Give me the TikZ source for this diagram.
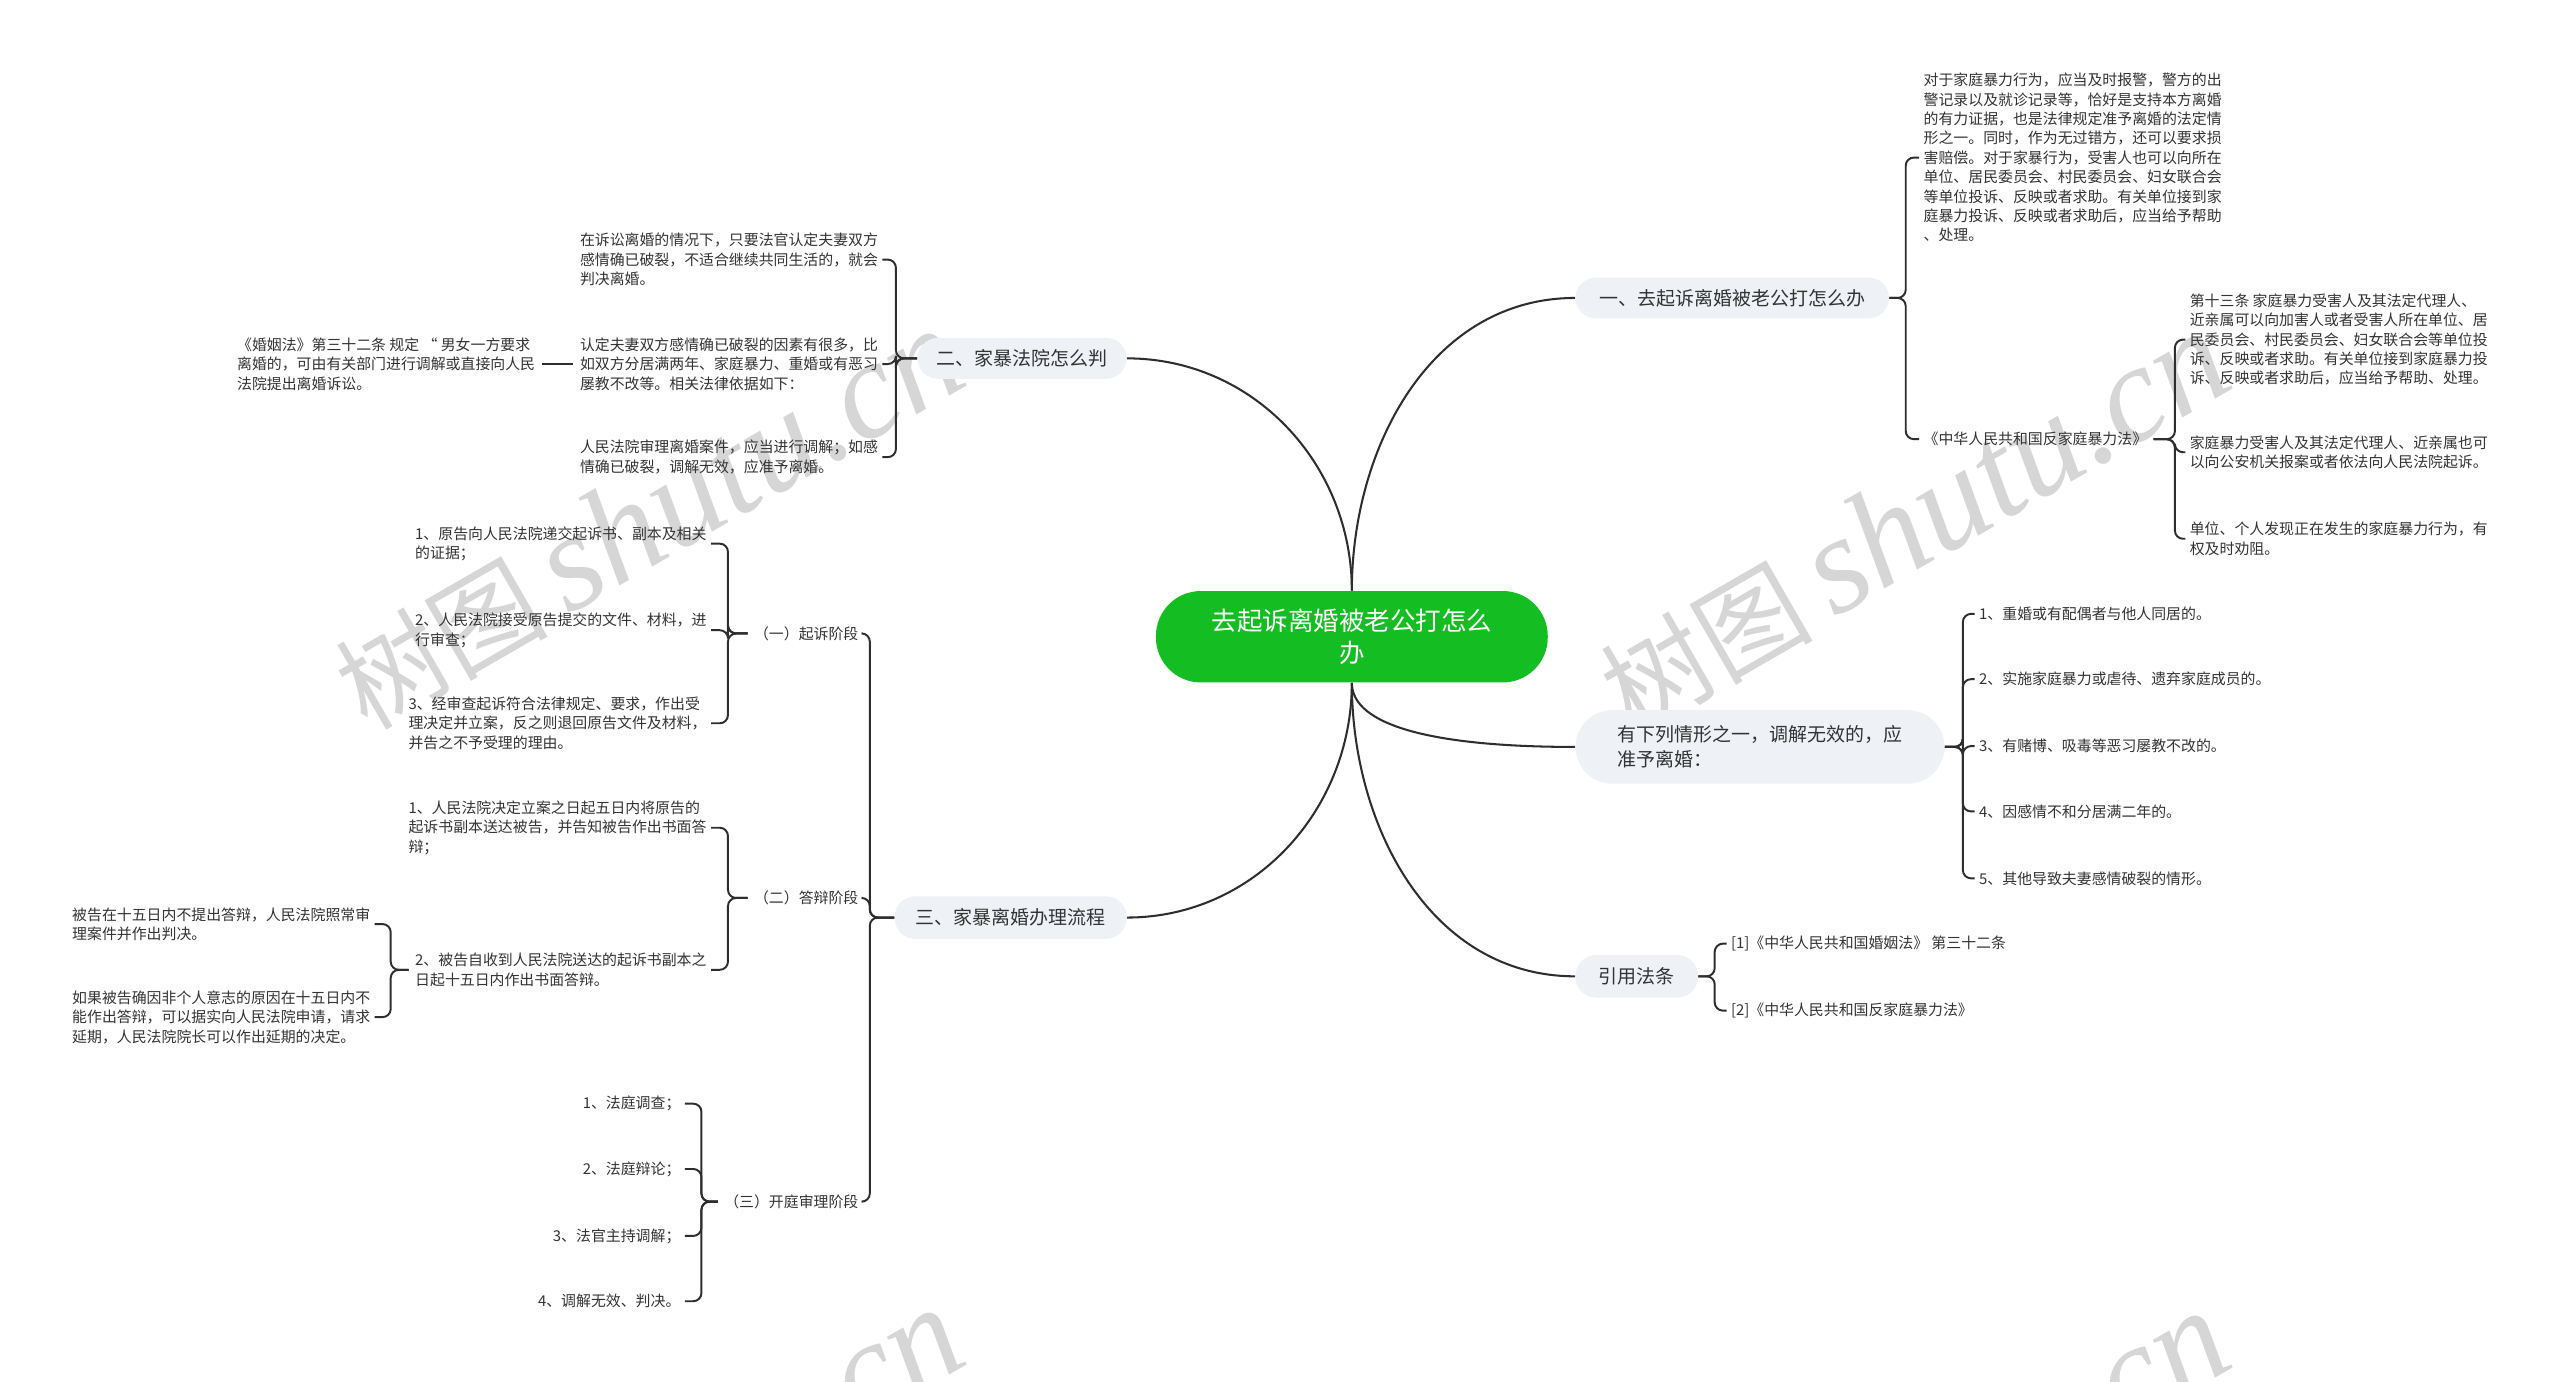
\documentclass[tikz,border=0pt]{standalone}
\usepackage{fontspec}
\newfontfamily\cjk{Noto Sans CJK SC}
\newfontfamily\wmserif{Liberation Serif}
\usetikzlibrary{calc}
\pgfdeclarelayer{bg}
\pgfsetlayers{bg,main}
\definecolor{lineC}{HTML}{2E2E2E}
\definecolor{textC}{HTML}{333333}
\definecolor{greenC}{HTML}{14BE22}
\definecolor{boxC}{HTML}{EEF1F5}
\definecolor{wmC}{HTML}{D6D6D6}
\newcommand\smallf{\cjk\fontsize{7.3pt}{9.5pt}\selectfont}
\newcommand\branchf{\cjk\fontsize{9.3pt}{12.4pt}\selectfont}
\newcommand\rootf{\cjk\fontsize{12.5pt}{16pt}\selectfont}
\newcommand\wmtext{{\cjk\fontsize{52pt}{52pt}\selectfont 树图}\hspace{10pt}{\wmserif\itshape\fontsize{68pt}{68pt}\selectfont shutu.cn}}
\tikzset{
  leaf/.style={font=\smallf, text=textC, align=left, inner sep=0pt},
  rleaf/.style={font=\smallf, text=textC, align=right, inner sep=0pt},
  branch/.style={font=\branchf, text=textC, fill=boxC, rounded corners=10pt, inner sep=0pt, align=center},
  rootbox/.style={font=\rootf, text=white, fill=greenC, rounded corners=22pt, minimum width=192pt, minimum height=44.8pt, align=center, inner sep=0pt},
  mainlink/.style={draw=lineC, line width=1pt},
  brk/.style={draw=lineC, line width=0.95pt, rounded corners=4pt},
  wmk/.style={text=wmC, inner sep=0pt, rotate=30},
}
\begin{document}
\begin{tikzpicture}[x=0.8pt,y=-0.8pt]
\useasboundingbox (0,0) rectangle (1568,846);

% root
\node[rootbox] (root) at (828,390) {去起诉离婚被老公打怎么\\办};

% branches
\node[branch, minimum width=153.6pt, minimum height=20pt] (b1) at (1061,182.5) {一、去起诉离婚被老公打怎么办};
\node[branch, minimum width=102.4pt, minimum height=20pt] (b2) at (626,219.5) {二、家暴法院怎么判};
\node[branch, minimum width=113.6pt, minimum height=20.8pt] (b3) at (619,562) {三、家暴离婚办理流程};
\node[branch, minimum width=180.8pt, minimum height=36pt, rounded corners=18pt, align=left] (b4) at (1078,457.5) {有下列情形之一，调解无效的，应\\准予离婚：};
\node[branch, minimum width=60pt, minimum height=20.8pt] (b5) at (1002.5,598) {引用法条};

% b1 children
\node[leaf, anchor=west] (t1) at (1178,96.5) {对于家庭暴力行为，应当及时报警，警方的出\\警记录以及就诊记录等，恰好是支持本方离婚\\的有力证据，也是法律规定准予离婚的法定情\\形之一。同时，作为无过错方，还可以要求损\\害赔偿。对于家暴行为，受害人也可以向所在\\单位、居民委员会、村民委员会、妇女联合会\\等单位投诉、反映或者求助。有关单位接到家\\庭暴力投诉、反映或者求助后，应当给予帮助\\、处理。};
\node[leaf, anchor=west] (t2) at (1178,269) {《中华人民共和国反家庭暴力法》};
\node[leaf, anchor=west] (t2a) at (1341,208) {第十三条 家庭暴力受害人及其法定代理人、\\近亲属可以向加害人或者受害人所在单位、居\\民委员会、村民委员会、妇女联合会等单位投\\诉、反映或者求助。有关单位接到家庭暴力投\\诉、反映或者求助后，应当给予帮助、处理。};
\node[leaf, anchor=west] (t2b) at (1341,277) {家庭暴力受害人及其法定代理人、近亲属也可\\以向公安机关报案或者依法向人民法院起诉。};
\node[leaf, anchor=west] (t2c) at (1341,330) {单位、个人发现正在发生的家庭暴力行为，有\\权及时劝阻。};

% b4 children
\node[leaf, anchor=west] (d1) at (1212,376) {1、重婚或有配偶者与他人同居的。};
\node[leaf, anchor=west] (d2) at (1212,416) {2、实施家庭暴力或虐待、遗弃家庭成员的。};
\node[leaf, anchor=west] (d3) at (1212,457) {3、有赌博、吸毒等恶习屡教不改的。};
\node[leaf, anchor=west] (d4) at (1212,497) {4、因感情不和分居满二年的。};
\node[leaf, anchor=west] (d5) at (1212,538) {5、其他导致夫妻感情破裂的情形。};

% b5 children
\node[leaf, anchor=west] (r1) at (1060,578) {[1]《中华人民共和国婚姻法》 第三十二条};
\node[leaf, anchor=west] (r2) at (1060,619) {[2]《中华人民共和国反家庭暴力法》};

% b2 children
\node[leaf, anchor=east] (l1) at (538,159) {在诉讼离婚的情况下，只要法官认定夫妻双方\\感情确已破裂，不适合继续共同生活的，就会\\判决离婚。};
\node[leaf, anchor=east] (l2) at (538,223) {认定夫妻双方感情确已破裂的因素有很多，比\\如双方分居满两年、家庭暴力、重婚或有恶习\\屡教不改等。相关法律依据如下：};
\node[leaf, anchor=east] (l2a) at (328,223) {《婚姻法》第三十二条 规定 “ 男女一方要求\\离婚的，可由有关部门进行调解或直接向人民\\法院提出离婚诉讼。};
\node[leaf, anchor=east] (l3) at (538,280) {人民法院审理离婚案件，应当进行调解；如感\\情确已破裂，调解无效，应准予离婚。};

% b3 children
\node[leaf, anchor=east] (s1) at (526,388) {（一）起诉阶段};
\node[leaf, anchor=east] (s2) at (526,550) {（二）答辩阶段};
\node[leaf, anchor=east] (s3) at (526,736) {（三）开庭审理阶段};

\node[leaf, anchor=east] (s1a) at (433,333) {1、原告向人民法院递交起诉书、副本及相关\\的证据；};
\node[leaf, anchor=east] (s1b) at (433,386) {2、人民法院接受原告提交的文件、材料，进\\行审查；};
\node[leaf, anchor=east] (s1c) at (433,443) {3、经审查起诉符合法律规定、要求，作出受\\理决定并立案，反之则退回原告文件及材料，\\并告之不予受理的理由。};

\node[leaf, anchor=east] (s2a) at (433,507) {1、人民法院决定立案之日起五日内将原告的\\起诉书副本送达被告，并告知被告作出书面答\\辩；};
\node[leaf, anchor=east] (s2b) at (433,594) {2、被告自收到人民法院送达的起诉书副本之\\日起十五日内作出书面答辩。};
\node[leaf, anchor=east] (s2b1) at (227,566) {被告在十五日内不提出答辩，人民法院照常审\\理案件并作出判决。};
\node[leaf, anchor=east] (s2b2) at (227,623) {如果被告确因非个人意志的原因在十五日内不\\能作出答辩，可以据实向人民法院申请，请求\\延期，人民法院院长可以作出延期的决定。};

\node[rleaf, anchor=east] (s3a) at (417,676) {1、法庭调查；};
\node[rleaf, anchor=east] (s3b) at (417,716) {2、法庭辩论；};
\node[rleaf, anchor=east] (s3c) at (417,757) {3、法官主持调解；};
\node[rleaf, anchor=east] (s3d) at (417,797) {4、调解无效、判决。};

\begin{pgfonlayer}{bg}
  \fill[white] (0,0) rectangle (1568,846);
  \begin{scope}
    \clip (0,0) rectangle (1568,846);
    \node[wmk] (wm1) at (397,318) {\wmtext};
    \node[wmk] (wm2) at (1172,320) {\wmtext};
    \node[wmk] (wm3) at (397,918) {\wmtext};
    \node[wmk] (wm4) at (1172,920) {\wmtext};
  \end{scope}

  % root links
  \draw[mainlink] (root.north) to[out=90,in=180] (b1.west);
  \draw[mainlink] (root.north) to[out=90,in=0] (b2.east);
  \draw[mainlink] (root.south) to[out=-90,in=0] (b3.east);
  \draw[mainlink] (root.south) .. controls (828,445) and (880,457.5) .. (b4.west);
  \draw[mainlink] (root.south) to[out=-90,in=180] (b5.west);

  % b1 bracket
  \foreach \c in {t1,t2}
    \draw[brk] (b1.east) -- ++(10,0) |- ([xshift=-2pt]\c.west);
  \foreach \c in {t2a,t2b,t2c}
    \draw[brk] ([xshift=3pt]t2.east) -- ++(13,0) |- ([xshift=-2pt]\c.west);
  % b4 bracket
  \foreach \c in {d1,d2,d3,d4,d5}
    \draw[brk] (b4.east) -- ++(11,0) |- ([xshift=-2pt]\c.west);
  % b5 bracket
  \foreach \c in {r1,r2}
    \draw[brk] (b5.east) -- ++(10,0) |- ([xshift=-2pt]\c.west);
  % b2 bracket
  \foreach \c in {l1,l2,l3}
    \draw[brk] (b2.west) -- ++(-13,0) |- ([xshift=2pt]\c.east);
  \draw[brk] ([xshift=-3pt]l2.west) -- ([xshift=3pt]l2a.east);
  % b3 bracket
  \foreach \c in {s1,s2,s3}
    \draw[brk] (b3.west) -- ++(-15,0) |- ([xshift=2pt]\c.east);
  \foreach \c in {s1a,s1b,s1c}
    \draw[brk] ([xshift=-3pt]s1.west) -- ++(-12,0) |- ([xshift=2pt]\c.east);
  \foreach \c in {s2a,s2b}
    \draw[brk] ([xshift=-3pt]s2.west) -- ++(-12,0) |- ([xshift=2pt]\c.east);
  \foreach \c in {s2b1,s2b2}
    \draw[brk] ([xshift=-3pt]s2b.west) -- ++(-11,0) |- ([xshift=2pt]\c.east);
  \foreach \c in {s3a,s3b,s3c,s3d}
    \draw[brk] ([xshift=-3pt]s3.west) -- ++(-10,0) |- ([xshift=2pt]\c.east);
\end{pgfonlayer}
\end{tikzpicture}
\end{document}
